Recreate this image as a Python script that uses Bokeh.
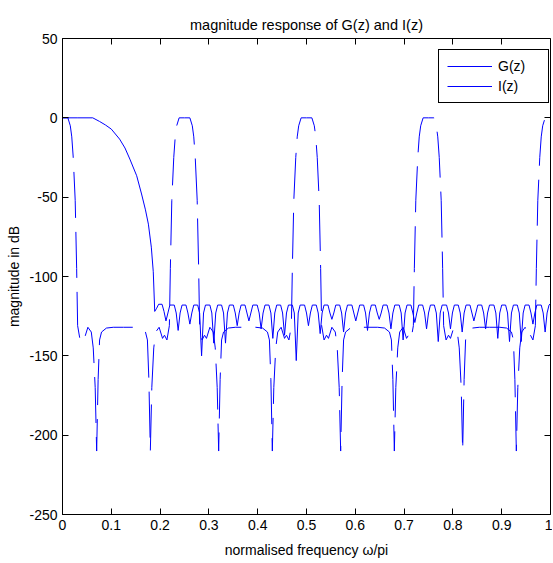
from bokeh.plotting import figure
from bokeh.models import LinearAxis, FixedTicker, Legend, LegendItem, Range1d
from bokeh.embed import file_html
from bokeh.resources import INLINE

# ---------------- data ----------------
x_ticks = [0, 0.1, 0.2, 0.3, 0.4, 0.5, 0.6, 0.7, 0.8, 0.9, 1]
x_tick_labels = ["0", "0.1", "0.2", "0.3", "0.4", "0.5", "0.6", "0.7", "0.8", "0.9", "1"]
y_ticks = [-250, -200, -150, -100, -50, 0, 50]
y_tick_labels = ["-250", "-200", "-150", "-100", "-50", "0", "50"]

# G(z): lowpass, equiripple stopband
g_freq = [
    0.000, 0.030, 0.062, 0.076, 0.088, 0.100, 0.117, 0.128, 0.138, 0.152, 0.162, 0.170, 0.176, 0.182, 0.186, 0.189,
    0.193, 0.197, 0.204, 0.208, 0.212,
    0.216, 0.220, 0.229, 0.233, 0.237,
    0.241, 0.245, 0.253, 0.257, 0.261,
    0.265, 0.269, 0.277, 0.281, 0.285,
    0.289, 0.293, 0.302, 0.306, 0.310,
    0.314, 0.318, 0.326, 0.330, 0.334,
    0.338, 0.342, 0.350, 0.354, 0.358,
    0.362, 0.366, 0.374, 0.378, 0.382,
    0.386, 0.390, 0.399, 0.403, 0.407,
    0.411, 0.415, 0.423, 0.427, 0.431,
    0.435, 0.439, 0.447, 0.451, 0.455,
    0.459, 0.463, 0.471, 0.475, 0.479,
    0.483, 0.487, 0.496, 0.500, 0.504,
    0.508, 0.512, 0.520, 0.524, 0.528,
    0.532, 0.536, 0.544, 0.548, 0.552,
    0.556, 0.560, 0.568, 0.572, 0.576,
    0.580, 0.584, 0.593, 0.597, 0.601,
    0.605, 0.609, 0.617, 0.621, 0.625,
    0.629, 0.633, 0.641, 0.645, 0.649,
    0.653, 0.657, 0.665, 0.669, 0.673,
    0.677, 0.681, 0.690, 0.694, 0.698,
    0.702, 0.706, 0.714, 0.718, 0.722,
    0.726, 0.730, 0.738, 0.742, 0.746,
    0.750, 0.754, 0.762, 0.766, 0.770,
    0.774, 0.778, 0.787, 0.791, 0.795,
    0.799, 0.803, 0.811, 0.815, 0.819,
    0.823, 0.827, 0.835, 0.839, 0.843,
    0.847, 0.851, 0.859, 0.863, 0.867,
    0.871, 0.875, 0.884, 0.888, 0.892,
    0.896, 0.900, 0.908, 0.912, 0.916,
    0.920, 0.924, 0.932, 0.936, 0.940,
    0.944, 0.948, 0.956, 0.960, 0.964,
    0.968, 0.972, 0.981, 0.985, 0.989,
    0.993, 0.997, 1.000,
]
g_mag = [
    0, 0, 0, -2.3, -4.5, -7.1, -13.4, -19, -26, -36.5, -48, -58, -67, -81.5, -97, -122,
    -120, -117.5, -117.5, -122, -128,
    -123, -118, -118, -123, -134,
    -123, -118, -118, -123, -130,
    -123, -118, -118, -123, -150,
    -123, -118, -118, -123, -142,
    -123, -118, -118, -123, -142,
    -123, -118, -118, -123, -131,
    -123, -118, -118, -123, -128,
    -123, -118, -118, -123, -133,
    -123, -118, -118, -123, -139,
    -123, -118, -118, -123, -137,
    -123, -118, -118, -123, -153,
    -123, -118, -118, -123, -131,
    -123, -118, -118, -123, -136,
    -123, -118, -118, -123, -127,
    -123, -118, -118, -123, -135,
    -123, -118, -118, -123, -128,
    -123, -118, -118, -123, -134,
    -123, -118, -118, -123, -127,
    -123, -118, -118, -123, -133,
    -123, -118, -118, -123, -140,
    -123, -118, -118, -123, -129,
    -123, -118, -118, -123, -133,
    -123, -118, -118, -123, -141,
    -123, -118, -118, -123, -133,
    -123, -118, -118, -123, -135,
    -123, -118, -118, -123, -128,
    -123, -118, -118, -123, -133,
    -123, -118, -118, -123, -139,
    -123, -118, -118, -123, -141,
    -123, -118, -118, -123, -141,
    -123, -118, -118, -123, -130,
    -123, -118, -118, -123, -135,
    -123, -118, -117,
]

# I(z): periodic image-suppressor with passbands at 0, 0.25, 0.5, 0.75, 1
i_freq = [
    0.000, 0.011, 0.016, 0.019, 0.022, 0.026, 0.029, 0.031, 0.036, 0.041, 0.045, 0.052, 0.059, 0.063, 0.067, 0.070, 0.073, 0.076, 0.080, 0.090, 0.104,
    0.125, 0.146, 0.160, 0.170, 0.174, 0.177, 0.180, 0.183, 0.187, 0.191, 0.198, 0.205, 0.209, 0.214, 0.219, 0.221, 0.224, 0.228, 0.231, 0.234, 0.239,
    0.250, 0.261, 0.266, 0.269, 0.272, 0.276, 0.279, 0.281, 0.286, 0.291, 0.295, 0.302, 0.309, 0.313, 0.317, 0.320, 0.323, 0.326, 0.330, 0.340, 0.354,
    0.375, 0.396, 0.410, 0.420, 0.424, 0.427, 0.430, 0.433, 0.437, 0.441, 0.448, 0.455, 0.459, 0.464, 0.469, 0.471, 0.474, 0.478, 0.481, 0.484, 0.489,
    0.500, 0.511, 0.516, 0.519, 0.522, 0.526, 0.529, 0.531, 0.536, 0.541, 0.545, 0.552, 0.559, 0.563, 0.567, 0.570, 0.573, 0.576, 0.580, 0.590, 0.604,
    0.625, 0.646, 0.660, 0.670, 0.674, 0.677, 0.680, 0.683, 0.687, 0.691, 0.698, 0.705, 0.709, 0.714, 0.719, 0.721, 0.724, 0.728, 0.731, 0.734, 0.739,
    0.750, 0.761, 0.766, 0.769, 0.772, 0.776, 0.779, 0.781, 0.786, 0.791, 0.795, 0.802, 0.809, 0.813, 0.817, 0.820, 0.823, 0.826, 0.830, 0.840, 0.854,
    0.875, 0.896, 0.910, 0.920, 0.924, 0.927, 0.930, 0.933, 0.937, 0.941, 0.948, 0.955, 0.959, 0.964, 0.969, 0.971, 0.974, 0.978, 0.981, 0.984, 0.989,
    1.000,
]
i_mag = [
    0, 0, -5, -12, -25, -52, -95, -131, -140, -137, -139, -132, -135, -145, -170, -210, -165, -140, -135, -132.5, -132,
    -132, -132, -132.5, -135, -140, -165, -210, -170, -145, -135, -132, -139, -137, -140, -131, -95, -52, -25, -12, -5, 0,
    0, 0, -5, -12, -25, -52, -95, -131, -140, -137, -139, -132, -135, -145, -170, -210, -165, -140, -135, -132.5, -132,
    -132, -132, -132.5, -135, -140, -165, -210, -170, -145, -135, -132, -139, -137, -140, -131, -95, -52, -25, -12, -5, 0,
    0, 0, -5, -12, -25, -52, -95, -131, -140, -137, -139, -132, -135, -145, -170, -210, -165, -140, -135, -132.5, -132,
    -132, -132, -132.5, -135, -140, -165, -210, -170, -145, -135, -132, -139, -137, -140, -131, -95, -52, -25, -12, -5, 0,
    0, 0, -5, -12, -25, -52, -95, -131, -140, -137, -139, -132, -135, -145, -170, -210, -165, -140, -135, -132.5, -132,
    -132, -132, -132.5, -135, -140, -165, -210, -170, -145, -135, -132, -139, -137, -140, -131, -95, -52, -25, -12, -5, 0,
    0,
]

FONT = "Liberation Sans"
W, H = 552, 560
BL, BR, BT, BB = 62, 2, 38, 46

p = figure(width=W, height=H, output_backend="svg", toolbar_location=None,
           x_range=Range1d(0, 1), y_range=Range1d(-250, 50),
           min_border_left=BL, min_border_right=BR, min_border_top=BT, min_border_bottom=BB,
           title="magnitude response of G(z) and I(z)")
p.background_fill_color = "white"
p.border_fill_color = "white"
p.outline_line_color = "black"
p.outline_line_alpha = 1
p.grid.grid_line_color = None

p.title.text_font = FONT
p.title.text_font_size = "14.5px"
p.title.text_font_style = "normal"
p.title.text_color = "black"
p.title.align = "center"
p.title.standoff = 11

xa = p.xaxis[0]
ya = p.yaxis[0]
xa.ticker = FixedTicker(ticks=x_ticks)
ya.ticker = FixedTicker(ticks=y_ticks)
xa.major_label_overrides = {t: l for t, l in zip(x_ticks, x_tick_labels)}
ya.major_label_overrides = {t: l for t, l in zip(y_ticks, y_tick_labels)}
xa.axis_label = "normalised frequency \u03c9/pi"
ya.axis_label = "magnitude in dB"
for ax, st, lst in ((xa, 5, 9), (ya, 5, 4)):
    ax.major_tick_in = 6
    ax.major_tick_out = 0
    ax.minor_tick_line_color = None
    ax.axis_line_color = "black"
    ax.major_tick_line_color = "black"
    ax.major_label_text_font = FONT
    ax.major_label_text_font_size = "14px"
    ax.major_label_text_color = "black"
    ax.major_label_standoff = st
    ax.axis_label_text_font = FONT
    ax.axis_label_text_font_size = "14px"
    ax.axis_label_text_font_style = "normal"
    ax.axis_label_text_color = "black"
    ax.axis_label_standoff = lst

# box ticks on top and right (MATLAB style), without labels, drawn at the frame edge
top = LinearAxis(ticker=FixedTicker(ticks=x_ticks), major_tick_in=6, major_tick_out=0,
                 minor_tick_line_color=None, major_label_text_font_size="1px",
                 major_label_text_color=None, major_label_standoff=0,
                 axis_line_color="black", major_tick_line_color="black",
                 fixed_location=50)
right = LinearAxis(ticker=FixedTicker(ticks=y_ticks), major_tick_in=6, major_tick_out=0,
                   minor_tick_line_color=None, major_label_text_font_size="1px",
                   major_label_text_color=None, major_label_standoff=0,
                   axis_line_color="black", major_tick_line_color="black",
                   fixed_location=1)
p.add_layout(top, "above")
p.add_layout(right, "right")

g_r = p.line(g_freq, g_mag, line_color="blue", line_width=1)
i_r = p.line(i_freq, i_mag, line_color="blue", line_width=1, line_dash="46 14")

fw = W - BL - BR
fh = H - BT - BB
leg_w, leg_h = 109, 55
legend = Legend(items=[LegendItem(label="G(z)", renderers=[g_r]),
                       LegendItem(label="I(z)", renderers=[i_r])],
                location=(fw - 3 - leg_w, fh - 10 - leg_h),
                border_line_color="black", border_line_width=1, border_line_alpha=1,
                background_fill_color="white", background_fill_alpha=1,
                padding=8, spacing=4, margin=0,
                glyph_width=45, glyph_height=16, label_height=16, label_width=42,
                label_standoff=6, label_text_font=FONT, label_text_font_size="14px",
                label_text_color="black")
p.add_layout(legend)

open("out.html", "w").write(file_html(p, INLINE))
